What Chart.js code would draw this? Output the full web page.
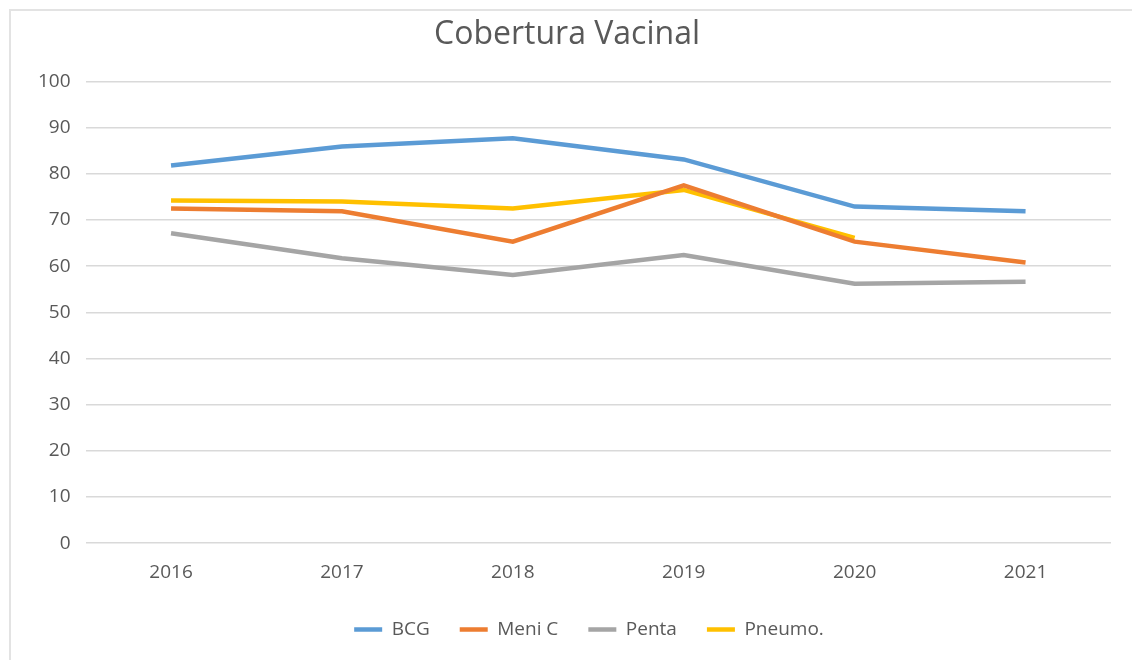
<!DOCTYPE html>
<html>
<head>
<meta charset="utf-8">
<script src="https://cdn.jsdelivr.net/npm/chart.js@4/dist/chart.umd.min.js"></script>
<style>
  body { margin: 0; background: #fff; }
  .wrap { position: relative; width: 1132px; height: 660px; }
  .frame { position: absolute; left: 9px; top: 9px; right: -5px; bottom: -5px; border-left: 2px solid #e3e3e3; border-top: 2px solid #e3e3e3; }
  canvas { position: absolute; left: 0; top: 0; }
</style>
</head>
<body>
<div class="wrap">
  <div class="frame"></div>
  <canvas id="chart" width="1132" height="660"></canvas>
</div>
<script>
// dados
var anos = ['2016', '2017', '2018', '2019', '2020', '2021']
var bcg = [81.8, 85.9, 87.7, 83.1, 72.9, 71.9]
var meniC = [72.5, 71.9, 65.3, 77.5, 65.3, 60.8]
var penta = [67.1, 61.7, 58.1, 62.4, 56.2, 56.6]
var pneumo = [74.2, 74.0, 72.5, 76.5, 66.1, null]
var yTicks = [0, 10, 20, 30, 40, 50, 60, 70, 80, 90, 100]

var fonte = '"Open Sans", "Noto Sans", sans-serif'
var cinza = '#595959'

function serie(nome, dados, cor) {
    return {
        label: nome,
        data: dados,
        borderColor: cor,
        backgroundColor: cor,
        borderWidth: 4.5,
        pointRadius: 0,
        pointHoverRadius: 0,
        tension: 0,
        fill: false
    }
}

// legenda centrada na area do grafico, como no excel
var moveLegenda = {
    id: 'moveLegenda',
    afterLayout: function(chart) {
        var lg = chart.legend
        lg.left += 22
        lg.right += 22
        lg.top -= 4
        lg.bottom -= 4
    }
}

var ctx = document.getElementById('chart')
var myChart = new Chart(ctx, {
    type: 'line',
    data: {
        labels: anos,
        datasets: [
            serie('BCG', bcg, '#5B9BD5'),
            serie('Meni C', meniC, '#ED7D31'),
            serie('Penta', penta, '#A5A5A5'),
            serie('Pneumo.', pneumo, '#FFC000')
        ]
    },
    options: {
        responsive: false,
        animation: false,
        layout: { padding: { left: 23, right: 21, top: 12, bottom: 7 } },
        plugins: {
            title: {
                display: true,
                text: 'Cobertura Vacinal',
                color: cinza,
                font: { family: fonte, size: 32, weight: 'normal' },
                padding: { top: 4, bottom: 27 }
            },
            legend: {
                position: 'bottom',
                labels: {
                    color: cinza,
                    font: { family: fonte, size: 19 },
                    usePointStyle: true,
                    pointStyle: 'line',
                    pointStyleWidth: 28,
                    padding: 30
                }
            },
            tooltip: { enabled: false }
        },
        scales: {
            x: {
                offset: true,
                grid: { display: false },
                border: { display: false },
                ticks: { color: cinza, font: { family: fonte, size: 19 }, padding: 10 }
            },
            y: {
                min: 0,
                max: 100,
                afterBuildTicks: function(axis) {
                    axis.ticks = yTicks.map(function(v) { return { value: v } })
                },
                grid: { color: '#d9d9d9', lineWidth: 1.5, drawTicks: false },
                border: { display: false },
                ticks: { color: cinza, font: { family: fonte, size: 19 }, padding: 15 }
            }
        }
    },
    plugins: [moveLegenda]
})
</script>
</body>
</html>
